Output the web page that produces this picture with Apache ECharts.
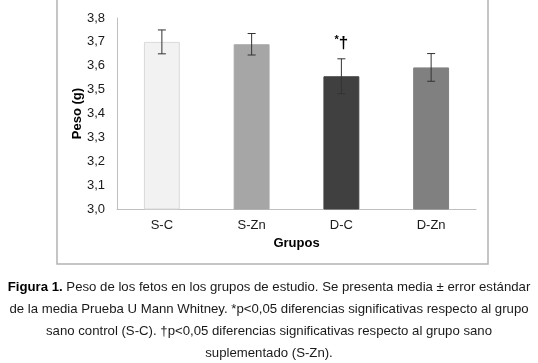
<!DOCTYPE html>
<html><head><meta charset="utf-8">
<script src="https://cdn.jsdelivr.net/npm/echarts@6/dist/echarts.min.js"></script>
<style>html,body{margin:0;padding:0;background:#fff}#c{width:538px;height:363px}</style>
</head><body><div id="c"></div>
<script>
const categories = ['S-C', 'S-Zn', 'D-C', 'D-Zn'];
const means = [3.70, 3.69, 3.556, 3.593];
const errors = [0.05, 0.045, 0.073, 0.058];
const barColors = ['#f2f2f2', '#a6a6a6', '#404040', '#808080'];
const significance = ['', '', '*†', ''];
const yTicks = [3.0, 3.1, 3.2, 3.3, 3.4, 3.5, 3.6, 3.7, 3.8];
const captionLines = [
  ['Figura 1.', ' Peso de los fetos en los grupos de estudio. Se presenta media ± error estándar'],
  ['', 'de la media Prueba U Mann Whitney. *p<0,05 diferencias significativas respecto al grupo'],
  ['', 'sano control (S-C). †p<0,05 diferencias significativas respecto al grupo sano'],
  ['', 'suplementado (S-Zn).']
];

const chart = echarts.init(document.getElementById('c'), null, {renderer: 'canvas'});
const FONT = 'Liberation Sans, Arial, sans-serif';

const captionGraphics = captionLines.map((ln, i) => ({
  type: 'text',
  left: 'center',
  top: 281 + i * 22,
  style: {
    text: (ln[0] ? '{b|' + ln[0] + '}' : '') + '{n|' + ln[1] + '}',
    rich: {
      b: {fontFamily: FONT, fontSize: 13.2, fontWeight: 'bold', fill: '#000'},
      n: {fontFamily: FONT, fontSize: 13.2, fill: '#1a1a1a'}
    }
  }
}));

chart.setOption({
  animation: false,
  backgroundColor: '#fff',
  grid: {left: 117, right: 62, top: 18, bottom: 154},
  xAxis: {
    type: 'category',
    data: categories,
    name: 'Grupos',
    nameLocation: 'middle',
    nameGap: 28,
    nameTextStyle: {fontFamily: FONT, fontSize: 13, fontWeight: 'bold', color: '#000'},
    axisLine: {lineStyle: {color: '#bfbfbf', width: 1}},
    axisTick: {show: false},
    axisLabel: {fontFamily: FONT, fontSize: 13, color: '#1a1a1a', margin: 10}
  },
  yAxis: {
    type: 'value',
    min: yTicks[0],
    max: yTicks[yTicks.length - 1],
    interval: 0.1,
    name: 'Peso (g)',
    nameLocation: 'middle',
    nameGap: 33,
    nameRotate: 90,
    nameMoveOverlap: false,
    nameTextStyle: {fontFamily: FONT, fontSize: 13, fontWeight: 'bold', color: '#000'},
    axisLine: {show: true, lineStyle: {color: '#bfbfbf', width: 1}},
    axisTick: {show: false},
    splitLine: {show: false},
    axisLabel: {fontFamily: FONT, fontSize: 13, color: '#1a1a1a', margin: 12,
      formatter: v => v.toFixed(1).replace('.', ',')}
  },
  series: [
    {
      type: 'bar',
      barWidth: '40%',
      data: means.map((v, i) => ({
        value: v,
        itemStyle: {color: barColors[i], borderColor: i === 0 ? '#d9d9d9' : barColors[i], borderWidth: 1}
      })),
      z: 2
    },
    {
      type: 'custom',
      z: 3,
      data: means.map((v, i) => [i, v - errors[i], v + errors[i], significance[i]]),
      renderItem: (params, api) => {
        const x = api.coord([api.value(0), 0])[0];
        const lo = api.coord([api.value(0), api.value(1)])[1];
        const hi = api.coord([api.value(0), api.value(2)])[1];
        const cap = 4;
        const st = {stroke: '#333', lineWidth: 1};
        const children = [
          {type: 'line', shape: {x1: x, y1: lo, x2: x, y2: hi}, style: st},
          {type: 'line', shape: {x1: x - cap, y1: lo, x2: x + cap, y2: lo}, style: st},
          {type: 'line', shape: {x1: x - cap, y1: hi, x2: x + cap, y2: hi}, style: st}
        ];
        const sig = significance[params.dataIndex];
        if (sig) {
          children.push({
            type: 'text',
            x: x, y: hi - 7,
            style: {
              text: '{s|*}{d|†}',
              align: 'center', verticalAlign: 'bottom',
              rich: {
                s: {fontFamily: FONT, fontSize: 11, fontWeight: 'bold', fill: '#000', verticalAlign: 'top', padding: [0, 0, 6, 0]},
                d: {fontFamily: FONT, fontSize: 17, fontWeight: 'bold', fill: '#000'}
              }
            }
          });
        }
        return {type: 'group', children};
      }
    }
  ],
  graphic: [
    {type: 'rect', shape: {x: 57, y: -2, width: 431, height: 266}, style: {fill: 'none', stroke: '#b3b3b3', lineWidth: 1.5}, silent: true, z: -1},
    ...captionGraphics
  ]
});
</script></body></html>
